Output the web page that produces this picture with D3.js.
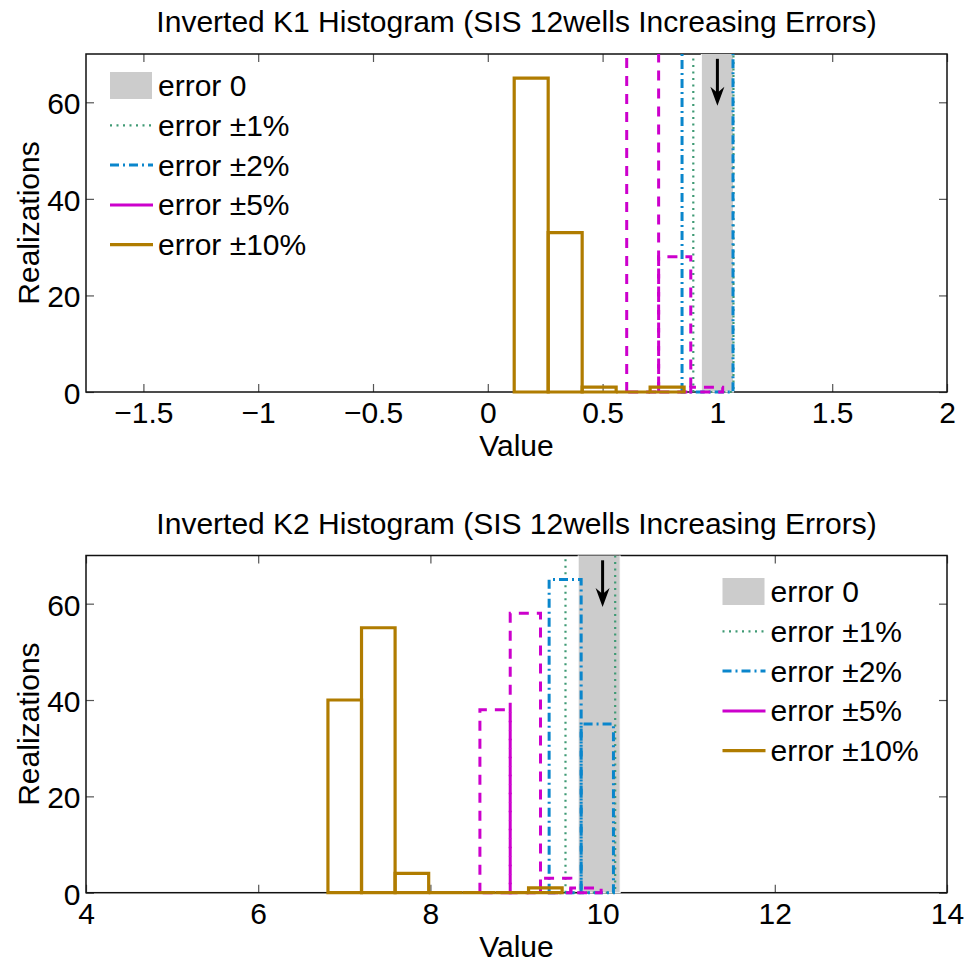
<!DOCTYPE html>
<html>
<head>
<meta charset="utf-8">
<script src="https://cdn.jsdelivr.net/npm/d3@7"></script>
<style>
body{margin:0;background:#fff}
text{font-family:"Liberation Sans",Arial,Helvetica,sans-serif;fill:#000}
</style>
</head>
<body>
<script>
// legend labels, one per series (same order as drawing)
const seriesNames = ["error 0", "error \u00b11%", "error \u00b12%", "error \u00b15%", "error \u00b110%"];

// K1 histograms: bin edges and realization counts (tall bins run past the y limit)
const k1Err0Edges = [0.93, 1.07];
const k1Err0Counts = [100];
const k1Err1Edges = [0.895, 1.07];
const k1Err1Counts = [100];
const k1Err2Edges = [0.846, 1.068];
const k1Err2Counts = [100];
const k1Err5Edges = [0.605, 0.744, 0.884, 1.023];
const k1Err5Counts = [71, 28, 1];
const k1Err10Edges = [0.115, 0.263, 0.411, 0.559, 0.707, 0.855];
const k1Err10Counts = [65, 33, 1, 0, 1];
const k1True = 1;

// K2 histograms
const k2Err0Edges = [9.716, 10.204];
const k2Err0Counts = [100];
const k2Err1Edges = [9.569, 10.146];
const k2Err1Counts = [100];
const k2Err2Edges = [9.379, 9.751, 10.126];
const k2Err2Counts = [65, 35];
const k2Err5Edges = [8.575, 8.927, 9.279, 9.631, 9.983];
const k2Err5Counts = [38, 58, 3, 1];
const k2Err10Edges = [6.81, 7.2, 7.59, 7.98, 8.37, 8.755, 9.14, 9.53];
const k2Err10Counts = [40, 55, 4, 0, 0, 0, 1];
const k2True = 10;

// axis ticks
const k1XTicks = [-1.5, -1, -0.5, 0, 0.5, 1, 1.5, 2];
const k2XTicks = [4, 6, 8, 10, 12, 14];
const yTicks = [0, 20, 40, 60];

// styles
const colors = ["#cccccc", "#3f9a74", "#0a86cc", "#cc00cc", "#b07c00"];
const dashes = [null, "2,4.5", "9,4,2,4", "10,8", null];
const legendDashes = [null, "2,4.5", "9,4,2,4", null, null];
const widths = [0, 2.2, 3, 3, 3.2];

const FS = 30;
const svg = d3.select("body").append("svg").attr("width", 967).attr("height", 962);

drawPanel({
  top: 54, bottom: 392,
  xDomain: [-1.75, 2], xTicks: k1XTicks,
  title: "Inverted K1 Histogram (SIS 12wells Increasing Errors)",
  edges: [k1Err0Edges, k1Err1Edges, k1Err2Edges, k1Err5Edges, k1Err10Edges],
  counts: [k1Err0Counts, k1Err1Counts, k1Err2Counts, k1Err5Counts, k1Err10Counts],
  trueValue: k1True,
  legend: {x: 110, y: 85.5},
  id: "k1"
});

drawPanel({
  top: 555.5, bottom: 892.7,
  xDomain: [4, 14], xTicks: k2XTicks,
  title: "Inverted K2 Histogram (SIS 12wells Increasing Errors)",
  edges: [k2Err0Edges, k2Err1Edges, k2Err2Edges, k2Err5Edges, k2Err10Edges],
  counts: [k2Err0Counts, k2Err1Counts, k2Err2Counts, k2Err5Counts, k2Err10Counts],
  trueValue: k2True,
  legend: {x: 722.5, y: 591.5},
  id: "k2"
});

function drawPanel(p) {
  const left = 86, right = 947;
  const x = d3.scaleLinear().domain(p.xDomain).range([left, right]);
  const y = d3.scaleLinear().domain([0, 70]).range([p.bottom, p.top]);
  const g = svg.append("g");

  // ticks (inside, mirrored like matlab box)
  const xb = g.append("g").attr("transform", `translate(0,${p.bottom})`)
    .call(d3.axisBottom(x).tickValues(p.xTicks).tickSizeInner(-8).tickSizeOuter(0).tickPadding(10).tickFormat(d3.format("")));
  const xt = g.append("g").attr("transform", `translate(0,${p.top})`)
    .call(d3.axisTop(x).tickValues(p.xTicks).tickSizeInner(-8).tickSizeOuter(0).tickFormat(""));
  const yl = g.append("g").attr("transform", `translate(${left},0)`)
    .call(d3.axisLeft(y).tickValues(yTicks).tickSizeInner(-8).tickSizeOuter(0).tickPadding(5.5));
  const yr = g.append("g").attr("transform", `translate(${right},0)`)
    .call(d3.axisRight(y).tickValues(yTicks).tickSizeInner(-8).tickSizeOuter(0).tickFormat(""));
  [xb, xt, yl, yr].forEach(a => {
    a.select(".domain").remove();
    a.attr("font-size", null).attr("font-family", null);
    a.selectAll(".tick line").attr("stroke", "#555").attr("stroke-width", 1.2);
    a.selectAll("text").style("font-size", FS + "px");
  });
  yl.selectAll("text").attr("dy", "0.38em");

  g.append("rect").attr("x", left).attr("y", p.top)
    .attr("width", right - left).attr("height", p.bottom - p.top)
    .attr("fill", "none").attr("stroke", "#111").attr("stroke-width", 1.5);

  // histograms
  svg.append("clipPath").attr("id", "clip-" + p.id)
    .append("rect").attr("x", left - 5).attr("y", p.top)
    .attr("width", right - left + 10).attr("height", p.bottom - p.top + 6);
  const plot = g.append("g").attr("clip-path", `url(#clip-${p.id})`);

  p.edges.forEach((e, s) => {
    const bins = p.counts[s].map((n, i) => ({x0: e[i], x1: e[i + 1], n: n}));
    if (s === 0) {
      plot.selectAll(null).data(bins).join("rect")
        .attr("x", d => x(d.x0)).attr("y", d => y(d.n))
        .attr("width", d => x(d.x1) - x(d.x0)).attr("height", d => y(0) - y(d.n))
        .attr("fill", colors[0]).attr("stroke", "#fff").attr("stroke-width", 1);
    } else {
      plot.selectAll(null).data(bins).join("path")
        .attr("d", d => `M${x(d.x0)},${y(0)}V${y(d.n)}H${x(d.x1)}V${y(0)}Z`)
        .attr("fill", "none").attr("stroke", colors[s])
        .attr("stroke-width", widths[s])
        .attr("stroke-dasharray", dashes[s]);
    }
  });

  // arrow at the true value
  const ax = x(p.trueValue), ay0 = y(69), ay1 = y(59.3);
  g.append("line").attr("x1", ax).attr("x2", ax).attr("y1", ay0).attr("y2", ay1 - 10)
    .attr("stroke", "#000").attr("stroke-width", 3);
  g.append("path").attr("d", `M${ax},${ay1}L${ax - 7},${ay1 - 19}L${ax},${ay1 - 13}L${ax + 7},${ay1 - 19}Z`)
    .attr("fill", "#000");

  // labels
  g.append("text").attr("x", (left + right) / 2).attr("y", p.top - 22)
    .attr("text-anchor", "middle").style("font-size", FS + "px").text(p.title);
  g.append("text").attr("x", (left + right) / 2).attr("y", p.bottom + 64)
    .attr("text-anchor", "middle").style("font-size", FS + "px").text("Value");
  g.append("text").attr("transform", `translate(39,${(p.top + p.bottom) / 2}) rotate(-90)`)
    .attr("text-anchor", "middle").style("font-size", FS + "px").text("Realizations");

  // legend
  const lg = g.append("g").attr("transform", `translate(${p.legend.x},${p.legend.y})`);
  seriesNames.forEach((name, i) => {
    const row = lg.append("g").attr("transform", `translate(0,${i * 39.8})`);
    if (i === 0) {
      row.append("rect").attr("x", 0).attr("y", -13.5).attr("width", 42).attr("height", 27)
        .attr("fill", colors[0]);
    } else {
      row.append("line").attr("x1", 0).attr("x2", 43).attr("y1", 0).attr("y2", 0)
        .attr("stroke", colors[i]).attr("stroke-width", widths[i])
        .attr("stroke-dasharray", legendDashes[i]);
    }
    row.append("text").attr("x", 48).attr("y", 10.5).style("font-size", FS + "px").text(name);
  });
}
</script>
</body>
</html>
